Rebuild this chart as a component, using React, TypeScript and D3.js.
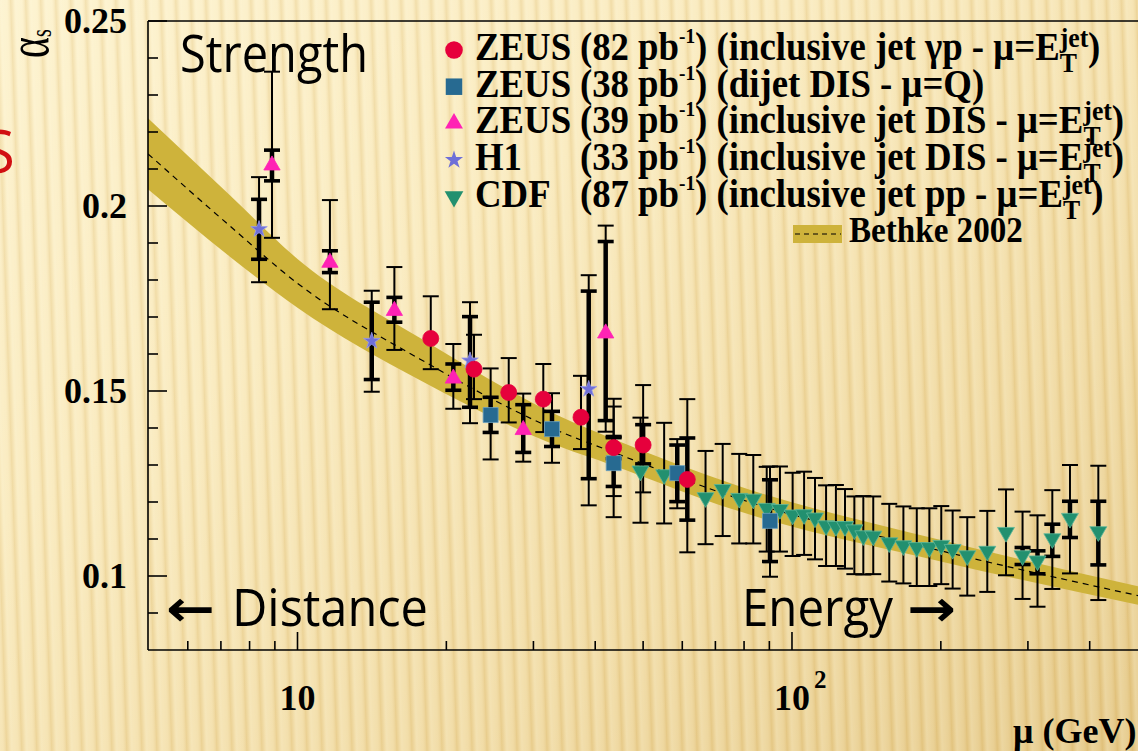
import React from 'react';
import * as d3 from 'd3';

// ---------- data ----------
// ZEUS (82 pb-1) inclusive jet photoproduction
const zeusGpMu = [18.6, 22.75, 26.74, 31.41, 37.44, 43.59, 50.0, 61.42];
const zeusGpAlpha = [0.1642, 0.1559, 0.1496, 0.1478, 0.1429, 0.1347, 0.1354, 0.1261];
const zeusGpStatUp = [0, 0, 0, 0, 0, 0.003, 0.0055, 0.0112];
const zeusGpStatDn = [0, 0, 0, 0, 0, 0.003, 0.0051, 0.011];
const zeusGpTotUp = [0.0114, 0.0093, 0.0093, 0.0095, 0.0112, 0.0132, 0.0162, 0.0217];
const zeusGpTotDn = [0.0083, 0.0081, 0.0081, 0.0089, 0.0086, 0.0131, 0.0128, 0.0197];

// ZEUS (38 pb-1) dijet DIS
const zeusDijetMu = [24.58, 32.71, 43.59, 58.61, 90.27];
const zeusDijetAlpha = [0.1435, 0.1397, 0.1305, 0.1278, 0.1149];
const zeusDijetStatUp = [0.0048, 0.0048, 0.0069, 0.0076, 0.0111];
const zeusDijetStatDn = [0.0047, 0.0047, 0.0063, 0.0077, 0.011];
const zeusDijetTotUp = [0.0126, 0.0097, 0.0153, 0.0092, 0.0147];
const zeusDijetTotDn = [0.012, 0.0091, 0.0146, 0.0095, 0.0151];

// ZEUS (39 pb-1) inclusive jet DIS
const zeusDisMu = [8.88, 11.63, 15.7, 20.66, 28.61, 42.0];
const zeusDisAlpha = [0.211, 0.1847, 0.1717, 0.1534, 0.1395, 0.1656];
const zeusDisStatUp = [0.0041, 0.0032, 0.0036, 0.0039, 0.0068, 0.0248];
const zeusDisStatDn = [0.0042, 0.0027, 0.0031, 0.0032, 0.0061, 0.0236];
const zeusDisTotUp = [0.0253, 0.0169, 0.0118, 0.0093, 0.0098, 0.0291];
const zeusDisTotDn = [0.0196, 0.0126, 0.0106, 0.0082, 0.0086, 0.0266];

// H1 (33 pb-1) inclusive jet DIS
const h1Mu = [8.36, 14.13, 22.33, 38.81];
const h1Alpha = [0.1937, 0.1635, 0.1582, 0.1505];
const h1StatUp = [0.0081, 0.0105, 0.0119, 0.0265];
const h1StatDn = [0.0081, 0.0104, 0.0126, 0.0242];
const h1TotUp = [0.0141, 0.0136, 0.0158, 0.0308];
const h1TotDn = [0.0143, 0.0137, 0.0169, 0.0314];

// CDF (87 pb-1) inclusive jet pp
const cdfMu = [49.39, 55.14, 66.86, 72.42, 78.22, 83.51, 88.9, 94.55, 100.3, 105.8, 111.3, 117.2, 122.7, 128.0, 133.7, 139.4, 146.0, 157.3, 168.0, 178.8, 189.6, 200.4, 211.3, 226.2, 248.3, 270.9, 292.6, 313.7, 336.1, 364.9, 416.4];
const cdfAlpha = [0.1284, 0.1274, 0.1212, 0.1234, 0.121, 0.1208, 0.1183, 0.118, 0.1165, 0.1166, 0.1157, 0.1136, 0.1134, 0.1134, 0.1125, 0.1109, 0.1108, 0.109, 0.1082, 0.1077, 0.1077, 0.1083, 0.1072, 0.1055, 0.1067, 0.1118, 0.1055, 0.1041, 0.1101, 0.1156, 0.112];
const cdfStatUp = [0, 0, 0, 0, 0, 0, 0, 0, 0, 0, 0, 0, 0, 0, 0, 0, 0, 0, 0, 0, 0, 0, 0, 0, 0, 0, 0.0022, 0.0027, 0.0039, 0.0046, 0.0082];
const cdfStatDn = [0, 0, 0, 0, 0, 0, 0, 0, 0, 0, 0, 0, 0, 0, 0, 0, 0, 0, 0, 0, 0, 0, 0, 0, 0, 0, 0.0024, 0.0035, 0.0048, 0.0052, 0.009];
const cdfTotUp = [0.0144, 0.014, 0.0126, 0.0123, 0.012, 0.0119, 0.0112, 0.0116, 0.0114, 0.0116, 0.0108, 0.0109, 0.0112, 0.0101, 0.009, 0.0107, 0.0107, 0.0105, 0.0106, 0.0106, 0.0106, 0.0106, 0.0105, 0.0104, 0.0109, 0.0116, 0.0119, 0.0123, 0.0131, 0.0144, 0.0178];
const cdfTotDn = [0.014, 0.0132, 0.0126, 0.0126, 0.0122, 0.012, 0.0117, 0.0114, 0.0111, 0.0109, 0.0112, 0.0109, 0.0107, 0.0114, 0.012, 0.0105, 0.0103, 0.0105, 0.0102, 0.0104, 0.0104, 0.0105, 0.0106, 0.0108, 0.011, 0.0116, 0.0117, 0.0124, 0.0136, 0.0149, 0.0185];

// Bethke 2002 band
const bandMu = [4.985, 7.3, 10, 17.7, 34, 43, 78.5, 200, 500.9];
const bandCenter = [0.2141, 0.1946, 0.1791, 0.1586, 0.139, 0.1337, 0.1208, 0.1068, 0.0947];
const bandHalf = [0.0096, 0.0083, 0.0066, 0.0057, 0.0041, 0.0036, 0.0034, 0.0029, 0.0025];

// axes
const yMajorTicks = [0.1, 0.15, 0.2, 0.25];
const yTickLabels = ['0.1', '0.15', '0.2', '0.25'];
const xMajorTicks = [10, 100];
const xMinorTicks = [6, 7, 8, 9, 20, 30, 40, 50, 60, 70, 80, 90, 200, 300, 400];

// legend
const legendLabels = ['ZEUS', 'ZEUS', 'ZEUS', 'H1', 'CDF'];
const legendLumi = ['82', '38', '39', '33', '87'];
const legendProcess = [
  '(inclusive jet \u03b3p - \u03bc=E',
  '(dijet DIS - \u03bc=Q)',
  '(inclusive jet DIS - \u03bc=E',
  '(inclusive jet DIS - \u03bc=E',
  '(inclusive jet pp - \u03bc=E',
];
const legendEt = [true, false, true, true, true];

// ---------- styles ----------
const C_RED = '#e6003c';
const C_BLUE = '#276a91';
const C_PINK = '#ff22b4';
const C_STAR = '#6e6fd8';
const C_TEAL = '#22906f';
const C_BAND = '#ceb33b';
const SERIF = '"Liberation Serif", "Times New Roman", serif';
const SANS = '"Open Sans", "Liberation Sans", sans-serif';

type Pt = { mu: number; a: number; su: number; sd: number; tu: number; td: number };

function makeSeries(mu: number[], a: number[], su: number[], sd: number[], tu: number[], td: number[]): Pt[] {
  return mu.map((m, i) => ({ mu: m, a: a[i], su: su[i], sd: sd[i], tu: tu[i], td: td[i] }));
}

const symCircle = d3.symbol().type(d3.symbolCircle).size(201)() as string;
const symSquare = d3.symbol().type(d3.symbolSquare).size(225)() as string;
const symTri = d3.symbol().type(d3.symbolTriangle).size(115)() as string;
const symTriDown = d3.symbol().type(d3.symbolTriangle).size(125)() as string;
const symStar = d3.symbol().type(d3.symbolStar).size(85)() as string;

export default function App() {
  const x = d3.scaleLog().domain([4.985, 500.9]).range([148, 1138]);
  const y = d3.scaleLinear().domain([0.08, 0.25]).range([650, 21]);

  const gp = makeSeries(zeusGpMu, zeusGpAlpha, zeusGpStatUp, zeusGpStatDn, zeusGpTotUp, zeusGpTotDn);
  const dj = makeSeries(zeusDijetMu, zeusDijetAlpha, zeusDijetStatUp, zeusDijetStatDn, zeusDijetTotUp, zeusDijetTotDn);
  const ds = makeSeries(zeusDisMu, zeusDisAlpha, zeusDisStatUp, zeusDisStatDn, zeusDisTotUp, zeusDisTotDn);
  const h1 = makeSeries(h1Mu, h1Alpha, h1StatUp, h1StatDn, h1TotUp, h1TotDn);
  const cdf = makeSeries(cdfMu, cdfAlpha, cdfStatUp, cdfStatDn, cdfTotUp, cdfTotDn);
  const allPts = [...cdf, ...dj, ...h1, ...ds, ...gp];

  const band = bandMu.map((m, i) => ({ m, c: bandCenter[i], h: bandHalf[i] }));
  const area = d3.area<any>().x((d) => x(d.m)).y0((d) => y(d.c - d.h)).y1((d) => y(d.c + d.h)).curve(d3.curveMonotoneX);
  const line = d3.line<any>().x((d) => x(d.m)).y((d) => y(d.c)).curve(d3.curveMonotoneX);

  const yMinor = d3.range(9, 25).map((v) => v / 100).filter((v) => !yMajorTicks.some((m) => Math.abs(m - v) < 1e-6));

  const capW = 8;

  const markers = [
    { pts: cdf, path: symTriDown, fill: C_TEAL, stroke: '#5fb89a', rot: 180 },
    { pts: dj, path: symSquare, fill: C_BLUE, stroke: '#6a9fc0', rot: 0 },
    { pts: h1, path: symStar, fill: C_STAR, stroke: '#9a9be8', rot: 0 },
    { pts: ds, path: symTri, fill: C_PINK, stroke: C_PINK, rot: 0 },
    { pts: gp, path: symCircle, fill: C_RED, stroke: C_RED, rot: 0 },
  ];

  const legendMarkers = [
    { path: symCircle, fill: C_RED, rot: 0 },
    { path: symSquare, fill: C_BLUE, rot: 0 },
    { path: symTri, fill: C_PINK, rot: 0 },
    { path: symStar, fill: C_STAR, rot: 0 },
    { path: symTriDown, fill: C_TEAL, rot: 180 },
  ];
  const legendBase = [60, 96.7, 133.3, 170, 206.7];

  return (
    <svg width={1138} height={751} viewBox="0 0 1138 751" style={{ position: 'absolute', left: 0, top: 0, display: 'block' }}>
      <defs>
        <linearGradient id="bg" x1="0" y1="0" x2="1" y2="1">
          <stop offset="0" stopColor="#fdf2cd" />
          <stop offset="0.35" stopColor="#f9e9bb" />
          <stop offset="0.7" stopColor="#f0d9a0" />
          <stop offset="1" stopColor="#e4c785" />
        </linearGradient>
        <linearGradient id="stripeGrad" x1="0" y1="0" x2="1" y2="0">
          <stop offset="0" stopColor="#fffbe8" stopOpacity="0.25" />
          <stop offset="0.45" stopColor="#fffbe8" stopOpacity="0.1" />
          <stop offset="0.7" stopColor="#c99a3c" stopOpacity="0.18" />
          <stop offset="1" stopColor="#fffbe8" stopOpacity="0.2" />
        </linearGradient>
        <pattern id="stripes" patternUnits="userSpaceOnUse" width="15" height="40" patternTransform="rotate(-2)">
          <rect width="15" height="40" fill="url(#stripeGrad)" />
        </pattern>
        <clipPath id="plotClip">
          <rect x={148} y={21} width={990} height={629} />
        </clipPath>
      </defs>

      {/* background */}
      <rect x={0} y={0} width={1138} height={751} fill="url(#bg)" />
      <rect x={-20} y={-20} width={1180} height={800} fill="url(#stripes)" />

      {/* red S from the slide behind */}
      <text x={-18} y={173} fill="#d10f12" fontFamily={SANS} fontSize={60}>S</text>

      {/* band */}
      <g clipPath="url(#plotClip)">
        <path d={area(band) as string} fill={C_BAND} />
        <path d={line(band) as string} fill="none" stroke="#000" strokeWidth={1.2} strokeDasharray="6,5" />
      </g>

      {/* frame */}
      <g stroke="#000" strokeWidth={1.6} fill="none">
        <line x1={148} y1={21} x2={1138} y2={21} />
        <line x1={148} y1={21} x2={148} y2={650} />
        <line x1={148} y1={650} x2={1138} y2={650} />
        {yMajorTicks.map((t) => (
          <line key={'ym' + t} x1={148} x2={167} y1={y(t)} y2={y(t)} />
        ))}
        {yMinor.map((t) => (
          <line key={'yn' + t} x1={148} x2={158} y1={y(t)} y2={y(t)} />
        ))}
        {xMajorTicks.map((t) => (
          <line key={'xm' + t} x1={x(t)} x2={x(t)} y1={650} y2={632} />
        ))}
        {xMinorTicks.map((t) => (
          <line key={'xn' + t} x1={x(t)} x2={x(t)} y1={650} y2={641} />
        ))}
      </g>

      {/* axis labels */}
      <g fontFamily={SERIF} fontWeight="bold" fill="#000">
        {yMajorTicks.map((t, i) => (
          <text key={'yl' + t} x={127} y={y(t) + 12} fontSize={36} textAnchor="end">{yTickLabels[i]}</text>
        ))}
        <text x={x(10)} y={710} fontSize={36} textAnchor="middle">10</text>
        <text x={x(100)} y={710} fontSize={36} textAnchor="middle">10</text>
        <text x={x(100) + 22} y={688} fontSize={25}>2</text>
        <text x={1013} y={743} fontSize={36}>{'\u03bc (GeV)'}</text>
      </g>
      <text transform="translate(48,58) rotate(-90) scale(1,1.5)" fontFamily={SERIF} fontSize={40} fill="#000">
        {'\u03b1'}
        <tspan fontSize={20} dy={2}>s</tspan>
      </text>

      {/* big annotations */}
      <text x={180} y={72} fontFamily={SANS} fontSize={51} textLength={188} lengthAdjust="spacingAndGlyphs" fill="#000">Strength</text>
      <text x={166} y={626} fontFamily='"DejaVu Sans", sans-serif' fontWeight="bold" fontSize={50} textLength={49} lengthAdjust="spacingAndGlyphs" fill="#000">{'\u2190'}</text>
      <text x={232} y={626} fontFamily={SANS} fontSize={51} textLength={196} lengthAdjust="spacingAndGlyphs" fill="#000">Distance</text>
      <text x={742} y={626} fontFamily={SANS} fontSize={51} textLength={151} lengthAdjust="spacingAndGlyphs" fill="#000">Energy</text>
      <text x={907} y={626} fontFamily='"DejaVu Sans", sans-serif' fontWeight="bold" fontSize={50} textLength={49} lengthAdjust="spacingAndGlyphs" fill="#000">{'\u2192'}</text>

      {/* error bars */}
      <g stroke="#000" fill="none">
        {allPts.map((p, i) => {
          const cx = x(p.mu);
          const yt = y(p.a + p.tu);
          const yb = y(p.a - p.td);
          return (
            <g key={'eb' + i}>
              <line x1={cx} x2={cx} y1={yt} y2={yb} strokeWidth={2} />
              <line x1={cx - capW} x2={cx + capW} y1={yt} y2={yt} strokeWidth={2} />
              <line x1={cx - capW} x2={cx + capW} y1={yb} y2={yb} strokeWidth={2} />
            </g>
          );
        })}
        {allPts
          .filter((p) => p.su > 0 || p.sd > 0)
          .map((p, i) => {
            const cx = x(p.mu);
            const yt = y(p.a + p.su);
            const yb = y(p.a - p.sd);
            return (
              <g key={'st' + i}>
                <line x1={cx} x2={cx} y1={yt} y2={yb} strokeWidth={4.5} />
                <line x1={cx - capW} x2={cx + capW} y1={yt} y2={yt} strokeWidth={3.6} />
                <line x1={cx - capW} x2={cx + capW} y1={yb} y2={yb} strokeWidth={3.6} />
              </g>
            );
          })}
      </g>

      {/* markers */}
      {markers.map((s, si) => (
        <g key={'ms' + si}>
          {s.pts.map((p, i) => (
            <path
              key={i}
              d={s.path}
              transform={`translate(${x(p.mu)},${y(p.a)}) rotate(${s.rot})`}
              fill={s.fill}
              stroke={s.stroke}
              strokeWidth={0.8}
            />
          ))}
        </g>
      ))}

      {/* legend */}
      {legendMarkers.map((m, i) => (
        <path key={'lm' + i} d={m.path} transform={`translate(454,${legendBase[i] - 10}) rotate(${m.rot}) scale(1.1)`} fill={m.fill} />
      ))}
      <g transform="translate(475,0) scale(0.92,1)" fontFamily={SERIF} fontWeight="bold" fill="#000">
        {legendLabels.map((lab, i) => (
          <g key={'lg' + i}>
            <text x={0} y={legendBase[i]} fontSize={40}>{lab}</text>
            <text x={114} y={legendBase[i]} fontSize={40}>
              {'(' + legendLumi[i] + ' pb'}
              <tspan dy={-17} fontSize={21}>-1</tspan>
              <tspan dy={17}>{') ' + legendProcess[i]}</tspan>
              {legendEt[i] ? (
                <>
                  <tspan dy={-13} fontSize={28}>jet</tspan>
                  <tspan dx={-31} dy={25} fontSize={28}>T</tspan>
                  <tspan dx={12} dy={-12}>)</tspan>
                </>
              ) : null}
            </text>
          </g>
        ))}
      </g>
      <rect x={793} y={225} width={49} height={18} fill={C_BAND} />
      <line x1={795} x2={841} y1={234} y2={234} stroke="#000" strokeWidth={1.2} strokeDasharray="5,4" />
      <text transform="translate(849,242) scale(0.92,1)" fontFamily={SERIF} fontWeight="bold" fontSize={36} fill="#000">Bethke 2002</text>
    </svg>
  );
}
